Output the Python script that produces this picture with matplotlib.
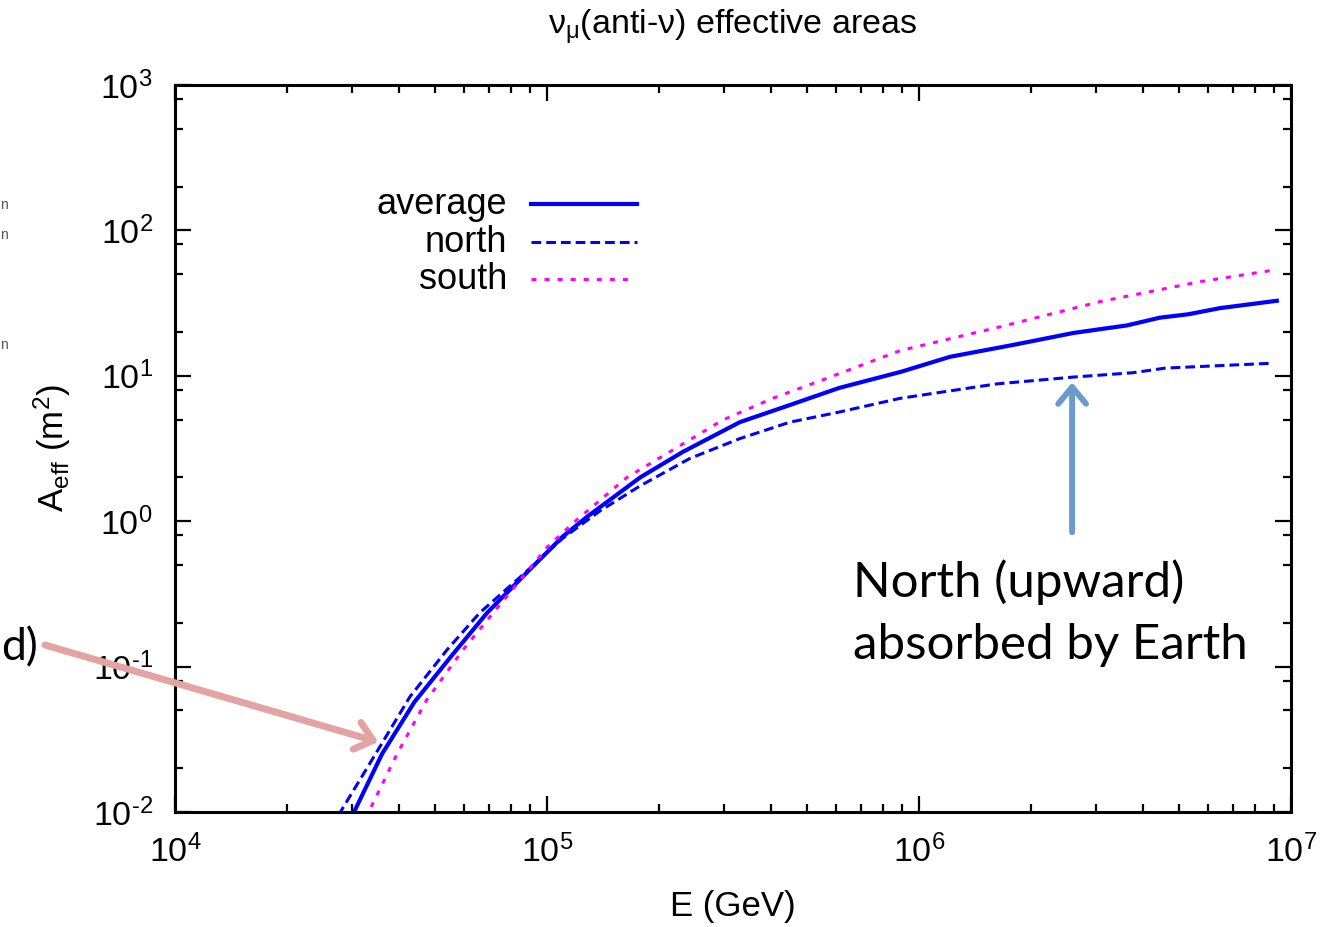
import matplotlib
matplotlib.use("Agg")
import numpy as np
import matplotlib.pyplot as plt
from matplotlib.ticker import LogLocator, NullFormatter, FuncFormatter

plt.rcParams['font.family'] = ['Liberation Sans', 'DejaVu Sans']
plt.rcParams['mathtext.fontset'] = 'custom'
plt.rcParams['mathtext.rm'] = 'Liberation Sans'
plt.rcParams['mathtext.it'] = 'Liberation Sans:italic'
plt.rcParams['axes.unicode_minus'] = False
plt.rcParams['lines.scale_dashes'] = False

# effective area (m^2) vs neutrino energy (GeV)
avg_E = [3.0e4, 3.6e4, 4.4e4, 5.5e4, 6.9e4, 8.8e4, 1.1e5, 1.28e5, 1.78e5, 2.32e5,
         3.3e5, 4.5e5, 6.1e5, 9.0e5, 1.21e6, 1.79e6, 2.6e6, 3.1e6, 3.62e6, 4.44e6,
         5.3e6, 6.44e6, 9.16e6]
avg_A = [0.0095, 0.025, 0.057, 0.116, 0.234, 0.44, 0.78, 1.07, 2.0, 3.0,
         4.8, 6.3, 8.25, 10.7, 13.5, 16.3, 19.7, 21.0, 22.2, 25.1,
         26.5, 29.2, 32.8]

north_E = [2.75e4, 3.49e4, 4.28e4, 5.38e4, 6.6e4, 8.8e4, 1.1e5, 1.39e5, 1.78e5, 2.42e5,
           3.3e5, 4.5e5, 6.1e5, 8.9e5, 1.62e6, 2.6e6, 3.76e6, 4.6e6, 8.9e6]
north_A = [0.0095, 0.026, 0.062, 0.13, 0.235, 0.45, 0.76, 1.18, 1.75, 2.7,
           3.7, 4.8, 5.63, 7.0, 8.8, 9.8, 10.5, 11.3, 12.2]

south_E = [3.25e4, 3.95e4, 4.75e4, 5.94e4, 7.5e4, 1.0e5, 1.18e5, 1.64e5, 2.18e5, 2.97e5,
           4.06e5, 5.5e5, 8.9e5, 1.65e6, 3.07e6, 5.7e6, 8.8e6]
south_A = [0.009, 0.025, 0.059, 0.13, 0.27, 0.66, 0.98, 2.0, 3.09, 4.97,
           7.03, 9.36, 14.9, 21.7, 32.4, 44.4, 52.9]

labels = ['average', 'north', 'south']

styles = [
    dict(color='#0000ff', lw=3.0, ls='-'),
    dict(color='#0000ff', lw=2.2, dashes=(7, 3.6)),
    dict(color='#ff00ff', lw=2.2, dashes=(3.6, 5.8)),
]


def pow10(v, pos):
    # 10^n with a plain hyphen in the exponent
    return r'$\mathregular{10^{\text{%d}}}$' % int(round(np.log10(v)))


W, H = 1329, 927
fig = plt.figure(figsize=(W / 100, H / 100), dpi=100)
ax = fig.add_axes([175 / W, 1 - 812 / H, 1116 / W, 727 / H])

for E, A, st in zip([avg_E, north_E, south_E], [avg_A, north_A, south_A], styles):
    ax.plot(E, A, **st)

ax.set_xscale('log')
ax.set_yscale('log')
ax.set_xlim(1e4, 1e7)
ax.set_ylim(1e-2, 1e3)

ax.xaxis.set_minor_locator(LogLocator(base=10, subs=range(2, 10)))
ax.yaxis.set_minor_locator(LogLocator(base=10, subs=(2, 5, 8)))
ax.xaxis.set_minor_formatter(NullFormatter())
ax.yaxis.set_minor_formatter(NullFormatter())
ax.xaxis.set_major_formatter(FuncFormatter(pow10))
ax.yaxis.set_major_formatter(FuncFormatter(pow10))

for s in ax.spines.values():
    s.set_linewidth(2.2)
ax.tick_params(which='both', direction='in', top=True, right=True, width=1.6)
ax.tick_params(which='major', length=11.5, labelsize=24.5)
ax.tick_params(which='minor', length=5.8)
ax.tick_params(axis='x', pad=16)
ax.tick_params(axis='y', pad=16)

ax.set_xlabel('E (GeV)', fontsize=25, labelpad=15)
ax.set_ylabel(r'A$_\mathregular{eff}$ (m$^\mathregular{2}$)', fontsize=25, labelpad=14)

fig.text(733 / W, 1 - 35 / H, r'$\mathregular{\nu_\mu}$(anti-$\mathregular{\nu}$) effective areas',
         ha='center', va='baseline', fontsize=24.5)

# gnuplot-style key: labels right-aligned, samples on the right
key_y = [0.836, 0.784, 0.733]
for lab, st, y in zip(labels, styles, key_y):
    ax.text(0.2975, y, lab, transform=ax.transAxes, ha='right', va='center',
            fontsize=26)
    x1 = 0.414 if lab != 'south' else 0.408
    ax.plot([0.319, x1], [y, y], transform=ax.transAxes, **st)

# callouts
ax.annotate('', xy=(2.58e6, 9.0), xytext=(2.58e6, 0.84),
            arrowprops=dict(arrowstyle='->,head_length=0.6,head_width=0.5',
                            color='#6a9bcc', lw=4.3, shrinkA=0, shrinkB=0,
                            mutation_scale=20),
            annotation_clip=False)
ax.annotate('', xy=(3.52e4, 0.0303), xytext=(45 / W, 1 - 645 / H),
            textcoords='figure fraction',
            arrowprops=dict(arrowstyle='->,head_length=0.6,head_width=0.5',
                            color='#e3a3a3', lw=5, shrinkA=0, shrinkB=0,
                            mutation_scale=20),
            annotation_clip=False)

note_font = ['Lato', 'DejaVu Sans']
fig.text(853 / W, 1 - 597 / H, 'North (upward)', family=note_font, fontsize=35.5,
         ha='left', va='baseline')
fig.text(853 / W, 1 - 659 / H, 'absorbed by Earth', family=note_font, fontsize=35.5,
         ha='left', va='baseline')
fig.text(1 / W, 1 - 660 / H, 'd)', family=note_font, fontsize=32,
         ha='left', va='baseline')

for y in [205, 235, 345]:
    fig.text(0.5 / W, 1 - y / H, 'n', fontsize=10, color='#555555',
             ha='left', va='center')

fig.savefig('out.png', dpi=100)
